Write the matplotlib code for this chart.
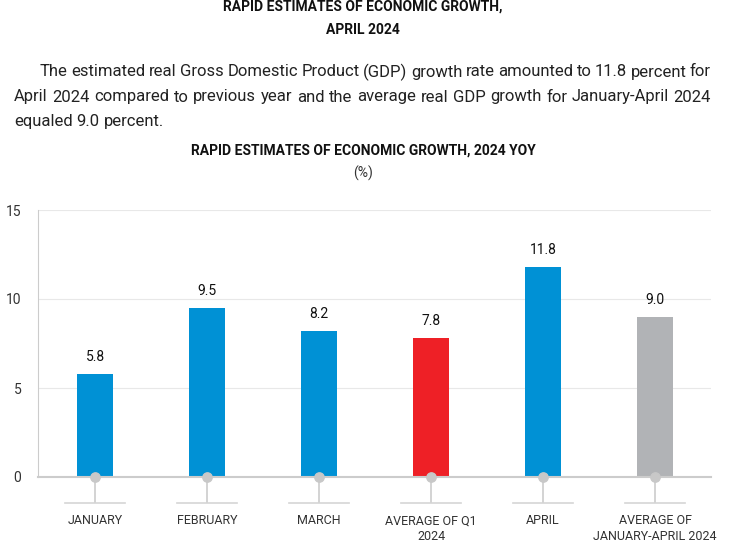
import matplotlib.pyplot as plt

plt.rcParams['font.family'] = ['Roboto', 'DejaVu Sans']

categories = ['JANUARY', 'FEBRUARY', 'MARCH', 'AVERAGE OF Q1\n2024', 'APRIL',
              'AVERAGE OF\nJANUARY-APRIL 2024']
values = [5.8, 9.5, 8.2, 7.8, 11.8, 9.0]
bar_colors = ['#0091d5', '#0091d5', '#0091d5', '#ee2026', '#0091d5', '#b1b3b6']
y_ticks = [0, 5, 10, 15]

paragraph = [
    'The estimated real Gross Domestic Product (GDP) growth rate amounted to 11.8 percent for',
    'April 2024 compared to previous year and the average real GDP growth for January-April 2024',
    'equaled 9.0 percent.',
]

W, H = 735, 553
fig = plt.figure(figsize=(W / 100, H / 100), dpi=100)
ax = fig.add_axes([38 / W, 1 - 477 / H, (711 - 38) / W, (477 - 210) / H])

x = list(range(len(categories)))
ax.bar(x, values, width=0.32, color=bar_colors, zorder=3)
for xi, v in zip(x, values):
    ax.annotate(f'{v:.1f}', (xi, v), xytext=(0, 7), textcoords='offset points',
                ha='center', va='bottom', fontsize=10, color='#111111')

ax.set_xlim(-0.51, 5.5)
ax.set_ylim(0, 15)
ax.set_yticks(y_ticks)
ax.grid(axis='y', color='#e8e8e8', linewidth=0.8, zorder=0)
for s in ['top', 'right']:
    ax.spines[s].set_visible(False)
ax.spines['left'].set_color('#cccccc')
ax.spines['bottom'].set_color('#cccccc')
ax.spines['bottom'].set_linewidth(1.5)
ax.spines['bottom'].set_zorder(4)
ax.tick_params(axis='y', length=0, pad=12, labelsize=10, labelcolor='#333333')
ax.set_xticks(x)
ax.set_xticklabels(categories, fontsize=9, color='#333333', linespacing=1.3)
ax.tick_params(axis='x', length=19, width=1.2, color='#cccccc', pad=8)

# little shelves under each tick and grey dots on the baseline
xt = ax.get_xaxis_transform()
for xi in x:
    ax.plot([xi - 0.27, xi + 0.27], [-26 / 267] * 2, transform=xt, color='#d5d5d5',
            linewidth=1.2, clip_on=False)
ax.scatter(x, [0] * len(x), s=45, color='#c8c8c8', zorder=5, clip_on=False)

# headings
fig.text(363 / W, 1 - 7 / H, 'RAPID ESTIMATES OF ECONOMIC GROWTH,', ha='center', va='center',
         fontsize=10, fontweight='bold', color='#111111')
fig.text(363 / W, 1 - 30 / H, 'APRIL 2024', ha='center', va='center',
         fontsize=10, fontweight='bold', color='#111111')
fig.text(363 / W, 1 - 151 / H, 'RAPID ESTIMATES OF ECONOMIC GROWTH, 2024 YOY', ha='center',
         va='center', fontsize=10, fontweight='bold', color='#111111')
fig.text(363 / W, 1 - 173 / H, '(%)', ha='center', va='center', fontsize=10, color='#333333')

# justified paragraph
renderer = fig.canvas.get_renderer()
line_y = [72, 97, 122]
starts = [40, 14, 14]
for i, (line, yp, x0) in enumerate(zip(paragraph, line_y, starts)):
    words = line.split(' ')
    texts = [fig.text(0, 1 - yp / H, w, fontsize=12, color='#222222', va='center')
             for w in words]
    widths = [t.get_window_extent(renderer).width for t in texts]
    if i < len(paragraph) - 1:
        gap = (711 - x0 - sum(widths)) / (len(words) - 1)
    else:
        gap = 4.0
    pos = x0
    for t, w in zip(texts, widths):
        t.set_x(pos / W)
        pos += w + gap

fig.savefig('out.png', dpi=100)
